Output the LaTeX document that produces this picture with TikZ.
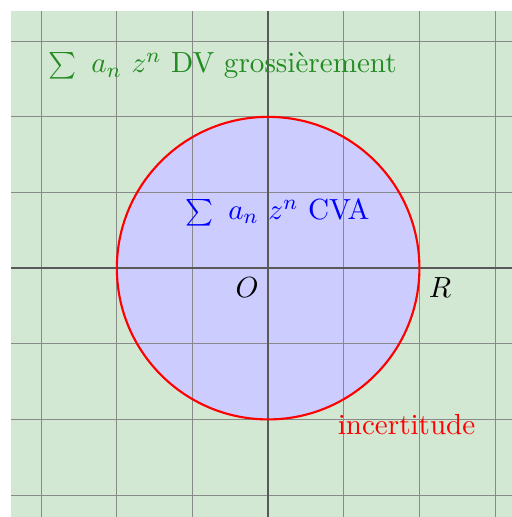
\documentclass[tikz,border=0pt]{standalone}
\usepackage{tikz}
\definecolor{foret}{RGB}{34,139,34}
\begin{document}
\begin{tikzpicture}[font=\fontsize{10.95}{13.6}\selectfont]
  \useasboundingbox (-3.545,-3.29) rectangle (3.22,3.545);
  % plan complexe, zone de divergence
  \fill[foret!20] (-3.4,-3.29) rectangle (3.22,3.4);
  % disque ouvert de convergence
  \fill[blue!20] (0,0) circle (2);
  \draw[gray, opacity=0.9] (-3.4,-3.29) grid (3.22,3.4);
  \draw[gray!70!black, semithick] (-3.4,0) -- (3.22,0);
  \draw[gray!70!black, semithick] (0,-3.29) -- (0,3.4);
  \draw[red, thick] (0,0) circle (2);
  % textes
  \coordinate (O) at (0,0);
  \coordinate (R) at (2,0);
  \node[below left] (o) at (O) {$O$};
  \node[below right] (r) at (R) {$R$};
  \node[text=blue] (cva) at (0.125,0.74) {$\sum\ a_n\ z^n$ CVA};
  \node[text=foret] (dv) at (-0.6,2.68) {$\sum\ a_n\ z^n$ DV grossièrement};
  \node[text=red] (inc) at (1.83,-2.07) {incertitude};
\end{tikzpicture}
\end{document}
